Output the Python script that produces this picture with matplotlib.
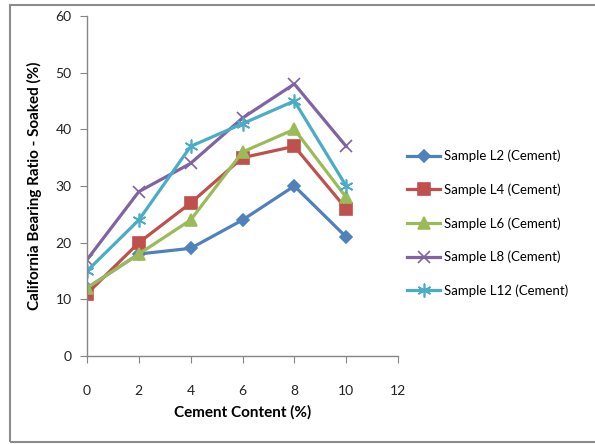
import matplotlib.pyplot as plt
from matplotlib.patches import Rectangle

plt.rcParams['font.family'] = ['Lato', 'DejaVu Sans']

cement = [0, 2, 4, 6, 8, 10]
cbr_l2 = [12, 18, 19, 24, 30, 21]
cbr_l4 = [11, 20, 27, 35, 37, 26]
cbr_l6 = [12, 18, 24, 36, 40, 28]
cbr_l8 = [17, 29, 34, 42, 48, 37]
cbr_l12 = [15, 24, 37, 41, 45, 30]

labels = ["Sample L2 (Cement)", "Sample L4 (Cement)", "Sample L6 (Cement)",
          "Sample L8 (Cement)", "Sample L12 (Cement)"]
colors = ["#4F81BD", "#C0504D", "#9BBB59", "#8064A2", "#4BACC6"]
markers = ["D", "s", "^", "x", (6, 2, 0)]
msizes = [6, 8, 8, 9, 10]

fig = plt.figure(figsize=(5.95, 4.44), dpi=100)

# chart frame
fig.patches.append(Rectangle((10 / 595, 2 / 444), 1.0, 437 / 444,
                             transform=fig.transFigure, fill=False,
                             edgecolor="#8c8c8c", linewidth=1.5))

ax = fig.add_axes([87 / 595, 88 / 444, 311 / 595, 340 / 444])
series = [cbr_l2, cbr_l4, cbr_l6, cbr_l8, cbr_l12]
for vals, lab, c, m, ms in zip(series, labels, colors, markers, msizes):
    ax.plot(cement, vals, color=c, marker=m, markersize=ms, linewidth=2.3,
            markeredgewidth=1.2, label=lab)

ax.set_xlim(0, 12)
ax.set_ylim(0, 60)
ax.set_xticks(range(0, 13, 2))
ax.set_yticks(range(0, 61, 10))
for s in ("top", "right"):
    ax.spines[s].set_visible(False)
for s in ("left", "bottom"):
    ax.spines[s].set_color("#868686")
    ax.spines[s].set_linewidth(1)
ax.tick_params(direction="out", length=5, color="#868686", labelsize=10,
               labelcolor="#222222")
ax.tick_params(axis="x", pad=16)
ax.tick_params(axis="y", pad=6)

ax.set_xlabel("Cement Content (%)", fontsize=11, fontweight="bold", labelpad=6)
ax.set_ylabel("California Bearing Ratio - Soaked (%)", fontsize=11,
              fontweight="bold", labelpad=10)

ax.legend(loc="center left", bbox_to_anchor=(1.0, 0.39), frameon=False,
          fontsize=9.5, handlelength=2.5, handletextpad=0.3, labelspacing=1.6,
          borderaxespad=0.3)

fig.savefig("out.png", dpi=100)
